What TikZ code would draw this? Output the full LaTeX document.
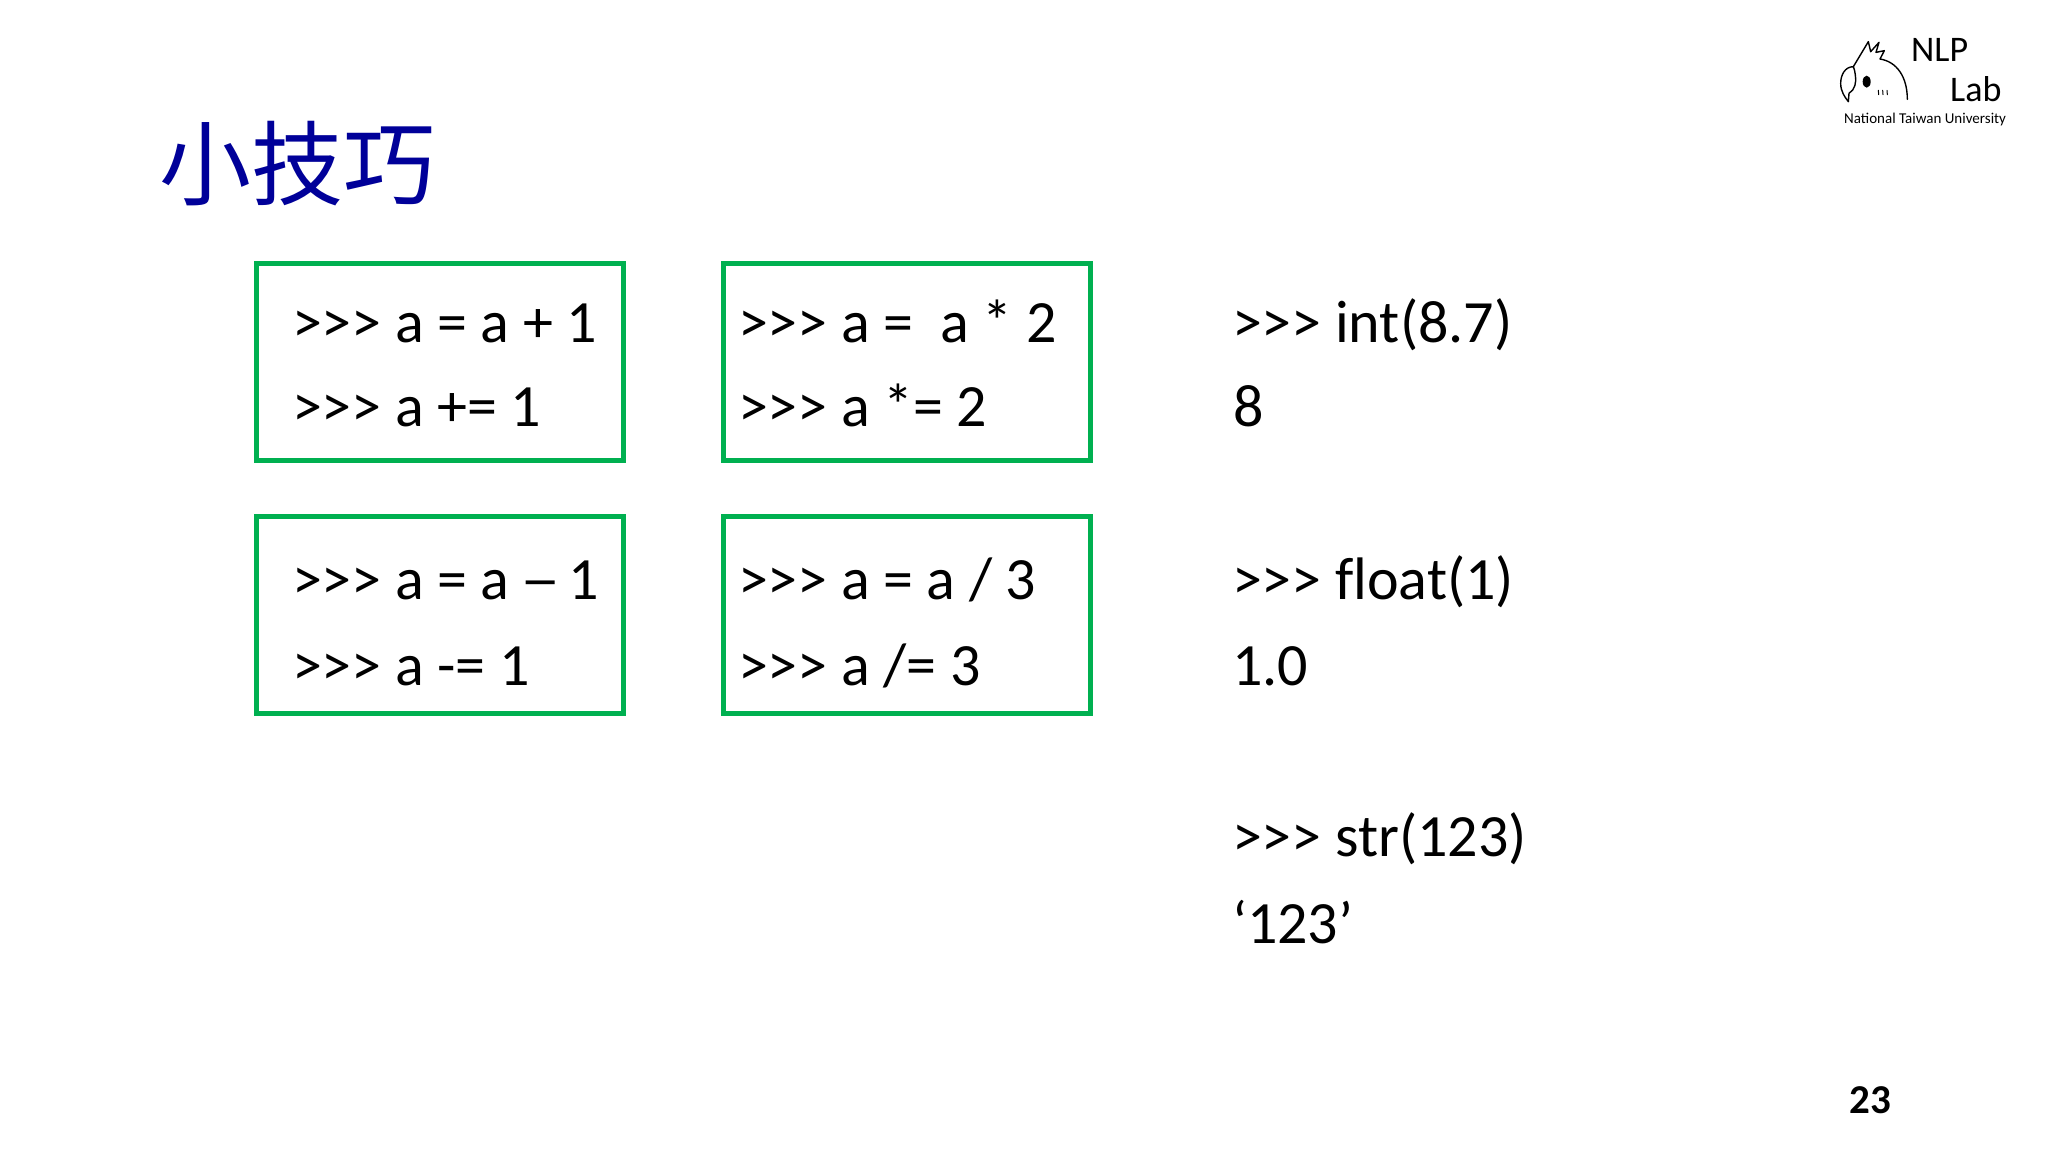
\documentclass[tikz,border=0pt]{standalone}
\usepackage{graphicx}
\usepackage{fontspec}
\setmainfont{Carlito}
\newfontfamily\codefont{Carlito}[Ligatures=NoCommon]
\newfontfamily\cjkfont{Noto Sans CJK TC}
\definecolor{boxgreen}{RGB}{0,176,80}
\definecolor{titleblue}{RGB}{0,0,153}
\tikzset{
  x=1pt,y=-1pt,
  codebox/.style={draw=boxgreen,line width=5pt,minimum width=367pt,minimum height=197pt,anchor=north west,inner sep=0pt,outer sep=0pt},
  code/.style={anchor=base west,inner sep=0pt,outer sep=0pt,font=\codefont\fontsize{60}{60}\selectfont,text=black},
  logoline/.style={draw=black,line width=1.4pt,line join=round,line cap=round},
}
\begin{document}
\begin{tikzpicture}
\useasboundingbox[fill=white] (0,0) rectangle (2048,1152);
\node[anchor=base west,inner sep=0pt,text=titleblue,font=\cjkfont\fontsize{92}{92}\selectfont] (title) at (159,198) {小技巧};
\node[codebox] (b1) at (256.5,263.5) {};
\node[codebox] (b2) at (723.5,263.5) {};
\node[codebox] (b3) at (256.5,516) {};
\node[codebox] (b4) at (723.5,516) {};
\node[code] (t1a) at (292,342) {>>> a = a + 1};
\node[code] (t1b) at (292,426.5) {>>> a += 1};
\node[code] (t2a) at (738,342) {>>> a =\ \ a * 2};
\node[code] (t2b) at (738,426.5) {>>> a *= 2};
\node[code] (t3a) at (292,599) {>>> a = a\hspace{11pt}\scalebox{1.35}[1]{–}\hspace{7pt}1};
\node[code] (t3b) at (292,685) {>>> a -= 1};
\node[code] (t4a) at (738,599) {>>> a = a / 3};
\node[code] (t4b) at (738,685) {>>> a /= 3};
\node[code] (t5a) at (1232,342) {>>> int(8.7)};
\node[code] (t5b) at (1233,426.5) {8};
\node[code] (t6a) at (1232,599) {>>> float(1)};
\node[code] (t6b) at (1232,685) {1.0};
\node[code] (t7a) at (1232,856) {>>> str(123)};
\node[code] (t7b) at (1232,943) {‘123’};
\node[anchor=base west,inner sep=0pt,font=\fontsize{36}{36}\selectfont] (nlp) at (1911,61) {NLP};
\node[anchor=base west,inner sep=0pt,font=\fontsize{36}{36}\selectfont] (lab) at (1950,101) {Lab};
\node[anchor=base west,inner sep=0pt,font=\fontsize{15}{15}\selectfont] (ntu) at (1844,123) {National Taiwan University};
\node[anchor=base west,inner sep=0pt,font=\bfseries\fontsize{41}{41}\selectfont] (page) at (1849,1113) {23};
% bird logo
\begin{scope}[shift={(1800,10)},x=0.3333pt,y=-0.3333pt]
\draw[logoline] (160,170) -- (205,95) -- (212,125) -- (237,97) -- (228,127) -- (253,122) -- (240,147)
  .. controls (290,155) and (322,200) .. (322,268);
\draw[logoline] (160,170) .. controls (135,170) and (122,195) .. (122,220)
  .. controls (122,245) and (135,262) .. (145,275) -- (147,250)
  .. controls (165,240) and (170,215) .. (166,195) .. controls (164,180) and (162,175) .. (160,170);
\fill[black] (200,215) ellipse [x radius=12,y radius=18];
\draw[logoline,line width=1pt] (235,241) -- (236,254) (248,241) -- (249,254) (261,241) -- (262,254);
\end{scope}
\end{tikzpicture}
\end{document}
